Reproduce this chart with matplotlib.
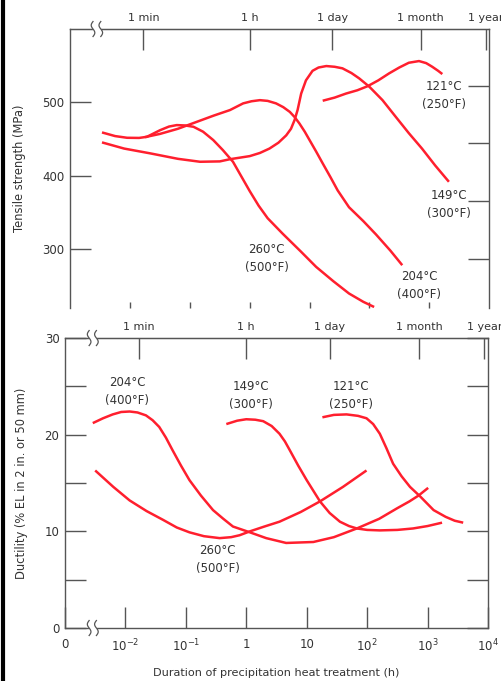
import numpy as np
import matplotlib
matplotlib.use('Agg')
import matplotlib.pyplot as plt
import matplotlib.transforms as mtransforms
from matplotlib.lines import Line2D

# ---- data (x in log10 hours) ----
# tensile strength, MPa
ts_260_x = [-2.47, -2.25, -2.05, -1.85, -1.72, -1.5, -1.35, -1.22, -1.08, -0.94, -0.78, -0.61, -0.45, -0.28, -0.14, 0.0, 0.15, 0.3, 0.55, 0.85, 1.11, 1.4, 1.66, 1.9, 2.08]
ts_260_y = [459, 454, 451.7, 451.5, 453, 462, 467, 469, 468.5, 466.7, 460, 448.6, 435, 419, 399, 379, 359, 342, 321, 297, 275.7, 256, 239.4, 228, 221]
ts_204_x = [-1.75, -1.5, -1.2, -0.9, -0.6, -0.33, -0.11, 0.03, 0.17, 0.3, 0.44, 0.56, 0.67, 0.75, 0.83, 0.92, 1.0, 1.11, 1.22, 1.35, 1.47, 1.66, 1.9, 2.11, 2.35, 2.55]
ts_204_y = [452.6, 457, 464, 473, 482, 489.5, 498.6, 501.5, 503, 502, 498.6, 493.5, 487, 480, 471.3, 460, 448.6, 433, 416.8, 398, 380, 357, 338, 320, 298, 278]
ts_149_x = [-2.47, -2.1, -1.66, -1.2, -0.83, -0.5, -0.33, 0.0, 0.17, 0.33, 0.48, 0.61, 0.69, 0.75, 0.8, 0.86, 0.94, 1.05, 1.15, 1.28, 1.42, 1.55, 1.7, 1.83, 2.0, 2.22, 2.44, 2.66, 2.88, 3.1, 3.33]
ts_149_y = [445.4, 437, 430.4, 423, 419, 419.5, 422.5, 426.7, 431, 437, 445, 455, 464, 475.9, 489.5, 512, 530, 543, 547.5, 549.5, 548.5, 546.4, 540, 532.7, 521.3, 503, 480.4, 458, 437, 414, 391.7]
ts_121_x = [1.22, 1.42, 1.61, 1.8, 1.97, 2.15, 2.33, 2.5, 2.66, 2.83, 2.95, 3.05, 3.15, 3.22]
ts_121_y = [502.2, 506.5, 512, 516.5, 522, 530, 539.5, 547.5, 554, 556.3, 553.5, 548.6, 543, 538.6]

# ductility, %EL
el_204_x = [-2.54, -2.37, -2.21, -2.07, -1.93, -1.8, -1.66, -1.55, -1.44, -1.33, -1.22, -1.08, -0.94, -0.75, -0.55, -0.38, -0.22, 0.06, 0.33, 0.66, 1.11, 1.45, 1.83, 2.2, 2.5, 2.7, 2.85, 3.01]
el_204_y = [21.2, 21.7, 22.1, 22.35, 22.4, 22.3, 22.0, 21.5, 20.8, 19.7, 18.4, 16.8, 15.3, 13.7, 12.2, 11.3, 10.5, 9.9, 9.3, 8.8, 8.9, 9.4, 10.3, 11.3, 12.4, 13.1, 13.7, 14.5]
el_260_x = [-2.50, -2.2, -1.93, -1.65, -1.38, -1.15, -0.94, -0.7, -0.44, -0.25, -0.11, 0.06, 0.3, 0.55, 0.9, 1.22, 1.6, 1.99]
el_260_y = [16.3, 14.6, 13.2, 12.1, 11.2, 10.4, 9.9, 9.5, 9.3, 9.4, 9.6, 10.0, 10.5, 11.0, 12.0, 13.1, 14.6, 16.3]
el_149_x = [-0.33, -0.15, 0.0, 0.15, 0.28, 0.42, 0.55, 0.64, 0.72, 0.86, 1.0, 1.11, 1.22, 1.38, 1.55, 1.7, 1.83, 2.0, 2.21, 2.5, 2.76, 3.0, 3.24]
el_149_y = [21.1, 21.45, 21.6, 21.55, 21.4, 20.9, 20.1, 19.3, 18.4, 16.8, 15.3, 14.2, 13.1, 11.9, 11.0, 10.55, 10.3, 10.15, 10.1, 10.15, 10.3, 10.55, 10.9]
el_121_x = [1.26, 1.45, 1.66, 1.85, 1.99, 2.1, 2.21, 2.32, 2.43, 2.57, 2.71, 2.88, 3.1, 3.3, 3.45, 3.59]
el_121_y = [21.8, 22.05, 22.1, 21.95, 21.7, 21.1, 20.1, 18.6, 17.0, 15.7, 14.6, 13.6, 12.2, 11.5, 11.1, 10.9]

time_ticks = [1/60, 1, 24, 720, 8760]
time_labels = ['1 min', '1 h', '1 day', '1 month', '1 year']
dec_ticks = [1e-3, 1e-2, 1e-1, 1, 10, 1e2, 1e3, 1e4]
dec_labels = ['0', r'$10^{-2}$', r'$10^{-1}$', '1', '10', r'$10^{2}$', r'$10^{3}$', r'$10^{4}$']

ts_labels = [(3.24, 509.5, '121\u00b0C\n(250\u00b0F)'), (3.33, 361, '149\u00b0C\n(300\u00b0F)'),
             (0.28, 287.6, '260\u00b0C\n(500\u00b0F)'), (2.83, 250, '204\u00b0C\n(400\u00b0F)')]
el_labels = [(-1.97, 24.5, '204\u00b0C\n(400\u00b0F)'), (0.08, 24.1, '149\u00b0C\n(300\u00b0F)'),
             (1.74, 24.1, '121\u00b0C\n(250\u00b0F)'), (-0.47, 7.1, '260\u00b0C\n(500\u00b0F)')]

red = '#ff1f2e'
gray = '#555555'
tc = '#333333'
plt.rcParams['font.family'] = 'DejaVu Sans'
plt.rcParams['mathtext.fontset'] = 'dejavusans'

fig = plt.figure(figsize=(5.01, 6.81), dpi=100)
ax1 = fig.add_axes([0.1403, 0.5477, 0.8357, 0.4097])
ax2 = fig.add_axes([0.1297, 0.0778, 0.8443, 0.4258])


def style(ax):
    ax.set_xscale('log')
    ax.set_xlim(1e-3, 1e4)
    ax.minorticks_off()
    for s in ax.spines.values():
        s.set_color(gray)
        s.set_linewidth(1.0)
    ax.tick_params(which='both', direction='in', colors=gray, labelcolor=tc, width=1.0)
    sec = ax.secondary_xaxis('top')
    sec.set_xticks(time_ticks)
    sec.set_xticklabels(time_labels)
    sec.minorticks_off()
    sec.tick_params(direction='in', length=15, width=1.0, colors=gray, labelcolor=tc, labelsize=8, pad=4)
    sec.spines['top'].set_color(gray)
    return sec


# top panel: tensile strength
style(ax1)
for xs, ys in [(ts_260_x, ts_260_y), (ts_204_x, ts_204_y), (ts_149_x, ts_149_y), (ts_121_x, ts_121_y)]:
    ax1.plot(10 ** np.array(xs), ys, color=red, lw=1.8, solid_capstyle='butt', solid_joinstyle='round')
ax1.set_ylim(219.6, 600)
ax1.set_yticks([300, 400, 500])
ax1.tick_params(axis='y', length=15, labelsize=8.5, pad=4)
ax1.set_xticks([1e-2, 1e-1, 1, 10, 1e2, 1e3])
ax1.tick_params(axis='x', length=4, labelbottom=False)
ax1.spines['bottom'].set_visible(False)
ax1r = ax1.twinx()
ax1r.set_ylim(ax1.get_ylim())
ax1r.set_yticks([522, 444, 365, 287])
ax1r.tick_params(axis='y', direction='in', length=15, colors=gray, labelright=False, width=1.0)
for s in ax1r.spines.values():
    s.set_visible(False)
ax1.set_ylabel('Tensile strength (MPa)', fontsize=8.3, color=tc, labelpad=12)
for x, y, t in ts_labels:
    ax1.text(10 ** x, y, t, ha='center', va='center', fontsize=8.5, color=tc, linespacing=1.5)

# bottom panel: ductility
style(ax2)
for xs, ys in [(el_204_x, el_204_y), (el_260_x, el_260_y), (el_149_x, el_149_y), (el_121_x, el_121_y)]:
    ax2.plot(10 ** np.array(xs), ys, color=red, lw=1.8, solid_capstyle='butt', solid_joinstyle='round')
ax2.set_ylim(0, 30)
ax2.set_yticks([0, 5, 10, 15, 20, 25, 30])
ax2.set_yticklabels(['0', '', '10', '', '20', '', '30'])
ax2.tick_params(axis='y', length=15, labelsize=8.5, pad=4, right=True)
ax2.set_xticks(dec_ticks)
ax2.set_xticklabels(dec_labels)
ax2.tick_params(axis='x', length=15, labelsize=8.5, pad=7)
ax2.set_ylabel('Ductility (% EL in 2 in. or 50 mm)', fontsize=8.3, color=tc, labelpad=12)
ax2.set_xlabel('Duration of precipitation heat treatment (h)', fontsize=8.1, color=tc, labelpad=10)
for x, y, t in el_labels:
    ax2.text(10 ** x, y, t, ha='center', va='center', fontsize=8.5, color=tc, linespacing=1.5)


def axis_break(ax, lx1, lx2, yax):
    tr = mtransforms.blended_transform_factory(ax.transData, ax.transAxes)
    p1 = tr.transform((10 ** lx1, yax))
    p2 = tr.transform((10 ** lx2, yax))
    fig.add_artist(Line2D([p1[0] + 1.5, p2[0] - 1.5], [p1[1], p2[1]], color='white', lw=3,
                          transform=mtransforms.IdentityTransform(), zorder=10))
    t = np.linspace(-1, 1, 30)
    for p in (p1, p2):
        fig.add_artist(Line2D(p[0] - 1.8 * np.sin(np.pi * t), p[1] + 7.5 * t, color=gray, lw=0.9,
                              transform=mtransforms.IdentityTransform(), zorder=11))


axis_break(ax1, -2.62, -2.49, 1.0)
axis_break(ax2, -2.60, -2.48, 1.0)
axis_break(ax2, -2.60, -2.48, 0.0)

# black bar on the left edge
fig.add_artist(Line2D([0.006, 0.006], [0, 1], color='black', lw=3, transform=fig.transFigure))

fig.savefig('out.png', dpi=100)
